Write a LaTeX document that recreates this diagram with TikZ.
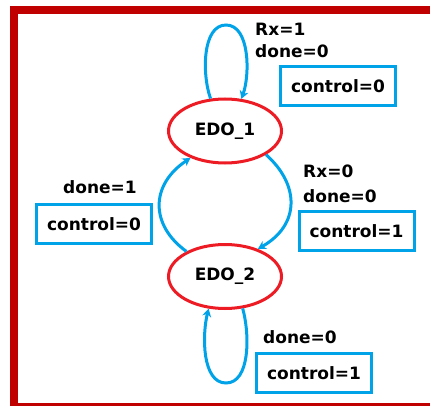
\documentclass[tikz,border=0pt]{standalone}
\usepackage{fontspec}
\setmainfont{DejaVu Sans}
\usetikzlibrary{shapes.geometric,arrows.meta}
\definecolor{framered}{HTML}{C00000}
\definecolor{statered}{HTML}{ED1C24}
\definecolor{wireblue}{HTML}{00A2E8}
\tikzset{
  state/.style={ellipse, draw=statered, line width=3pt, inner sep=0pt,
    minimum width=113pt, minimum height=64pt,
    font=\fontsize{17}{20}\selectfont\bfseries},
  outbox/.style={draw=wireblue, line width=3pt, inner sep=0pt,
    minimum width=115pt, minimum height=39pt,
    font=\fontsize{17}{20}\selectfont\bfseries},
  cond/.style={anchor=base west, inner sep=0pt,
    font=\fontsize{17}{20}\selectfont\bfseries},
  trans/.style={draw=wireblue, line width=3pt,
    -{Stealth[length=8pt,width=9pt]}},
}
\begin{document}
\begin{tikzpicture}[x=1pt,y=-1pt]
\useasboundingbox (0,0) rectangle (430,406);
% frame
\fill[framered] (10,6) rectangle (430,14);
\fill[framered] (10,6) rectangle (18,406);
\fill[framered] (10,403) rectangle (430,406);

% states
\node[state] (e1) at (225,131) {EDO\_1};
\node[state] (e2) at (225,276.5) {EDO\_2};

% self loop on EDO_1
\coordinate (top) at (226,25);
\draw[trans] (e1.114) .. controls (202,75) and (202,25) .. (top)
  .. controls (250,25) and (250,75) .. (e1.63);
\node[cond] (c1a) at (255,36) {Rx=1};
\node[cond] (c1b) at (255,58) {done=0};
\node[outbox] (o1) at (338,86) {control=0};

% EDO_1 -> EDO_2
\draw[trans] (e1.-30) .. controls (300,185) and (300,225) .. (e2.40);
\node[cond] (c2a) at (303,177) {Rx=0};
\node[cond] (c2b) at (303,202) {done=0};
\node[outbox] (o2) at (356.5,231) {control=1};

% EDO_2 -> EDO_1
\draw[trans] (e2.147) .. controls (150,225) and (150,185) .. (e1.218);
\node[cond] (c3a) at (63,193) {done=1};
\node[outbox] (o3) at (94,224) {control=0};

% self loop on EDO_2
\coordinate (bot) at (226,383);
\draw[trans] (e2.-61) .. controls (250,335) and (250,383) .. (bot)
  .. controls (202,383) and (202,335) .. (e2.-117);
\node[cond] (c4a) at (263,343) {done=0};
\node[outbox] (o4) at (314,373) {control=1};
\end{tikzpicture}
\end{document}
